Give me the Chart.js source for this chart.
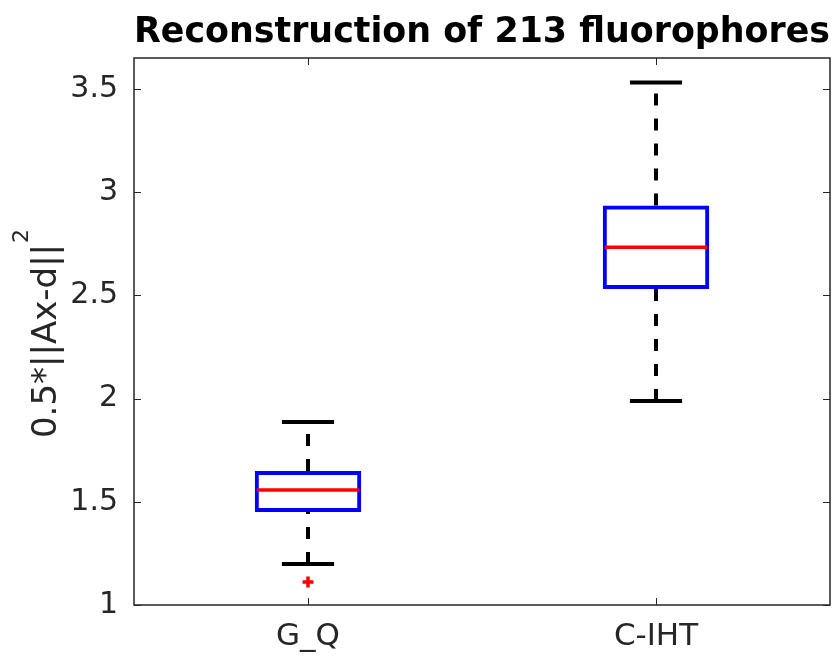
<!DOCTYPE html>
<html>
<head>
<meta charset="utf-8">
<script src="https://cdn.jsdelivr.net/npm/chart.js@4"></script>
<style>
  html, body { margin: 0; padding: 0; background: #fff; }
  #wrap { width: 839px; height: 658px; }
</style>
</head>
<body>
<div id="wrap"><canvas id="myChart" width="839" height="658"></canvas></div>
<script>
// box plot values
const categories = ['G_Q', 'C-IHT'];
const whiskerLow = [1.199, 1.988];
const q1 = [1.451, 2.531];
const median = [1.557, 2.733];
const q3 = [1.649, 2.935];
const whiskerHigh = [1.887, 3.531];
const outliers = [[1.111], []];
const yTicks = [1, 1.5, 2, 2.5, 3, 3.5];

const axisColor = '#262626';
const font = 'DejaVu Sans';

function seg(ctx, x1, y1, x2, y2) {
    ctx.beginPath();
    ctx.moveTo(x1, y1);
    ctx.lineTo(x2, y2);
    ctx.stroke();
}

const boxParts = {
    id: 'boxParts',
    afterDatasetsDraw(chart) {
        const ctx = chart.ctx;
        const y = chart.scales.y;
        const meta = chart.getDatasetMeta(0);
        meta.data.forEach((bar, i) => {
            const x = bar.x, w = bar.width;
            ctx.save();
            ctx.lineCap = 'butt';
            // whiskers, dashed, drawn bottom to top like matlab
            ctx.strokeStyle = '#000';
            ctx.lineWidth = 4;
            ctx.setLineDash([12, 13]);
            seg(ctx, x, y.getPixelForValue(whiskerLow[i]), x, y.getPixelForValue(q1[i]));
            seg(ctx, x, y.getPixelForValue(q3[i]), x, y.getPixelForValue(whiskerHigh[i]));
            ctx.setLineDash([]);
            // caps
            const cw = w * 0.245;
            seg(ctx, x - cw, y.getPixelForValue(whiskerLow[i]), x + cw, y.getPixelForValue(whiskerLow[i]));
            seg(ctx, x - cw, y.getPixelForValue(whiskerHigh[i]), x + cw, y.getPixelForValue(whiskerHigh[i]));
            // median
            ctx.strokeStyle = '#ff0000';
            ctx.lineWidth = 3.5;
            seg(ctx, x - w / 2 + 2, y.getPixelForValue(median[i]), x + w / 2 - 2, y.getPixelForValue(median[i]));
            ctx.restore();
        });
    },
    afterDraw(chart) {
        const ctx = chart.ctx;
        const a = chart.chartArea;
        const xs = chart.scales.x, ys = chart.scales.y;
        ctx.save();
        ctx.strokeStyle = axisColor;
        ctx.lineWidth = 1.5;
        ctx.strokeRect(a.left, a.top, a.right - a.left, a.bottom - a.top);
        ctx.lineWidth = 1;
        const tl = 7;
        ys.ticks.forEach((t, i) => {
            const py = Math.round(ys.getPixelForTick(i)) + 0.5;
            seg(ctx, a.left, py, a.left + tl, py);
            seg(ctx, a.right, py, a.right - tl, py);
        });
        xs.ticks.forEach((t, i) => {
            const px = Math.round(xs.getPixelForTick(i)) + 0.5;
            seg(ctx, px, a.bottom, px, a.bottom - tl);
            seg(ctx, px, a.top, px, a.top + tl);
        });

        // y label with a real superscript
        const main = '0.5*||Ax-d||', sup = '2';
        ctx.fillStyle = axisColor;
        ctx.font = '34px "DejaVu Sans"';
        const mw = ctx.measureText(main).width;
        ctx.font = '22px "DejaVu Sans"';
        const sw = ctx.measureText(sup).width;
        ctx.translate(56, (a.top + a.bottom) / 2 + 2);
        ctx.rotate(-Math.PI / 2);
        ctx.textBaseline = 'alphabetic';
        ctx.textAlign = 'left';
        const start = -(mw + sw + 1) / 2;
        ctx.font = '34px "DejaVu Sans"';
        ctx.fillText(main, start, 0);
        ctx.font = '22px "DejaVu Sans"';
        ctx.fillText(sup, start + mw + 1, -28);
        ctx.restore();
    }
};

const outlierPoints = [];
outliers.forEach((list, i) => list.forEach(v => outlierPoints.push({ x: categories[i], y: v })));

const ctx = document.getElementById('myChart').getContext('2d');
const myChart = new Chart(ctx, {
    type: 'bar',
    data: {
        labels: categories,
        datasets: [{
            label: 'box',
            data: categories.map((c, i) => [q1[i], q3[i]]),
            backgroundColor: 'rgba(0,0,0,0)',
            borderColor: '#0000ff',
            borderWidth: 4,
            borderSkipped: false,
            barPercentage: 0.306,
            categoryPercentage: 1
        }, {
            type: 'line',
            label: 'outliers',
            data: outlierPoints,
            showLine: false,
            pointStyle: 'cross',
            pointRadius: 5.5,
            borderColor: '#ff0000',
            borderWidth: 3.5
        }]
    },
    options: {
        responsive: false,
        animation: false,
        layout: { padding: { left: 0, right: 7, top: 0, bottom: 0 } },
        plugins: {
            legend: { display: false },
            tooltip: { enabled: false },
            title: {
                display: true,
                fullSize: false,
                text: 'Reconstruction of 213 fluorophores',
                color: '#000',
                font: { family: font, size: 35, weight: 'bold' },
                padding: { top: 12, bottom: 4 }
            }
        },
        scales: {
            x: {
                offset: true,
                grid: { display: false, drawTicks: false },
                border: { display: false },
                ticks: {
                    color: axisColor,
                    font: { family: font, size: 31 },
                    padding: 13
                },
                afterFit(scale) { scale.height = 53; }
            },
            y: {
                min: 1,
                max: 3.65,
                grid: { display: false, drawTicks: false },
                border: { display: false },
                afterBuildTicks(scale) {
                    scale.ticks = yTicks.map(v => ({ value: v }));
                },
                ticks: {
                    color: axisColor,
                    font: { family: font, size: 30 },
                    padding: 16,
                    autoSkip: false,
                    callback: v => String(v)
                },
                title: { display: false },
                afterFit(scale) { scale.width = 134; }
            }
        }
    },
    plugins: [boxParts]
});
</script>
</body>
</html>
